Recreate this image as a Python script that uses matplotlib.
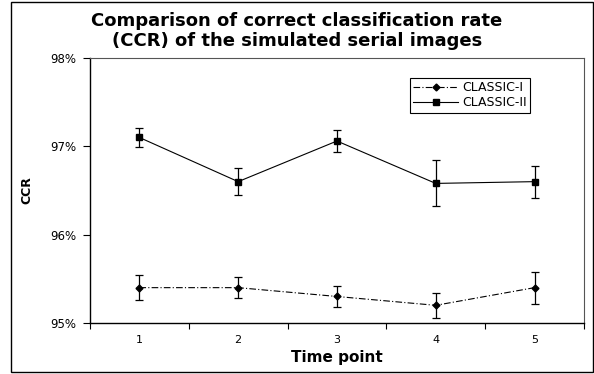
import matplotlib.pyplot as plt
from matplotlib.lines import Line2D
from matplotlib.patches import Rectangle
from matplotlib.ticker import FixedLocator

plt.rcParams['font.family'] = ['DejaVu Sans']

time_points = [1, 2, 3, 4, 5]
classic1 = [95.40, 95.40, 95.30, 95.20, 95.40]
classic1_err = [0.14, 0.12, 0.12, 0.14, 0.18]
classic2 = [97.10, 96.60, 97.06, 96.58, 96.60]
classic2_err = [0.11, 0.155, 0.12, 0.26, 0.18]
y_ticks = [95, 96, 97, 98]

fig = plt.figure(figsize=(5.94, 3.74), dpi=100)
ax = fig.add_axes([0.1515, 0.1364, 0.8315, 0.7086])

dashdot = (0, (6, 2, 1, 2))
ax.errorbar(time_points, classic1, yerr=classic1_err, color='black', lw=0.8,
            linestyle=dashdot, marker='D', markersize=3.5,
            capsize=3, elinewidth=0.9, capthick=0.9)
ax.errorbar(time_points, classic2, yerr=classic2_err, color='black', lw=0.8,
            linestyle='-', marker='s', markersize=4.5,
            capsize=3, elinewidth=0.9, capthick=0.9)

ax.set_xlim(0.5, 5.5)
ax.set_ylim(95, 98)
ax.set_yticks(y_ticks)
ax.set_yticklabels([f'{t}%' for t in y_ticks])
ax.set_xticks(time_points)
ax.xaxis.set_minor_locator(FixedLocator([0.5, 1.5, 2.5, 3.5, 4.5, 5.5]))
ax.tick_params(axis='x', which='major', length=0, labelsize=8, pad=9)
ax.tick_params(axis='x', which='minor', length=4, width=0.8, direction='out')
ax.tick_params(axis='y', length=5, width=0.8, labelsize=8.5, direction='out', pad=5)

for side in ['top', 'right']:
    ax.spines[side].set_color('#555555')
    ax.spines[side].set_linewidth(0.8)
for side in ['left', 'bottom']:
    ax.spines[side].set_color('black')
    ax.spines[side].set_linewidth(1.0)

ax.set_xlabel('Time point', fontsize=11, fontweight='bold', labelpad=3)
ax.set_ylabel('CCR', fontsize=9, fontweight='bold', labelpad=12)

fig.text(0.5, 0.916, 'Comparison of correct classification rate\n(CCR) of the simulated serial images',
         ha='center', va='center', fontsize=13, fontweight='bold', linespacing=1.15)

handles = [
    Line2D([], [], color='black', lw=0.8, linestyle=dashdot, marker='D', markersize=3.5),
    Line2D([], [], color='black', lw=0.8, linestyle='-', marker='s', markersize=4.5),
]
leg = ax.legend(handles, ['CLASSIC-I', 'CLASSIC-II'], loc='upper left',
                bbox_to_anchor=(0.648, 0.925), fontsize=9,
                frameon=True, fancybox=False, edgecolor='black', framealpha=1,
                handlelength=3.6, borderpad=0.25, labelspacing=0.2,
                handletextpad=0.3, borderaxespad=0)
leg.get_frame().set_linewidth(0.8)

fig.patches.append(Rectangle((11 / 594, 2 / 374), 582 / 594, 370 / 374,
                             transform=fig.transFigure, fill=False,
                             edgecolor='black', linewidth=1.0))

fig.savefig('out.png', dpi=100)
